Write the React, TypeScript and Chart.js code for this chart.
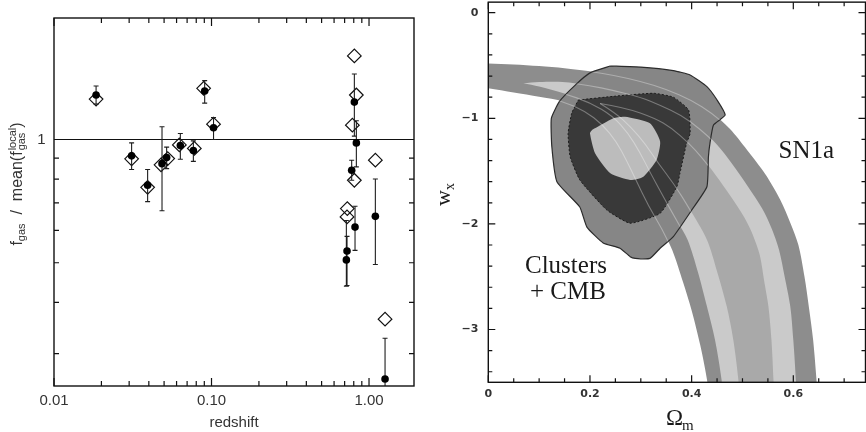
import { useEffect, useRef } from "react";
import { Chart, registerables } from "chart.js";

Chart.register(...registerables);

type Pair = [number, number];

// ---------- left panel: gas fraction relative to the local mean ----------
const clusterZ = [0.0185, 0.0311, 0.0393, 0.0485, 0.0519, 0.0634, 0.0767, 0.0905, 0.103, 0.807, 0.831, 0.776, 0.815, 0.725, 0.718, 1.097, 1.264];
const fgasRatio = [1.284, 0.912, 0.773, 0.873, 0.903, 0.967, 0.94, 1.313, 1.068, 1.234, 0.981, 0.841, 0.611, 0.534, 0.508, 0.649, 0.26];
const fgasLow = [1.22, 0.845, 0.705, 0.67, 0.849, 0.895, 0.884, 1.227, 1.0, 1.019, 0.857, 0.795, 0.536, 0.44, 0.438, 0.495, 0.2];
const fgasHigh = [1.351, 0.981, 0.845, 1.074, 0.958, 1.034, 0.992, 1.392, 1.132, 1.445, 1.111, 0.89, 0.687, 0.58, 0.634, 0.801, 0.327];
const modelZ = [0.0185, 0.0311, 0.0393, 0.0478, 0.0527, 0.0625, 0.0778, 0.0891, 0.103, 0.807, 0.831, 0.784, 0.807, 0.728, 0.725, 1.097, 1.264];
const modelRatio = [1.255, 0.897, 0.764, 0.867, 0.898, 0.97, 0.951, 1.333, 1.09, 1.6, 1.284, 1.084, 0.795, 0.678, 0.647, 0.89, 0.364];

const zLimits = [0.01, 1.93];
const ratioLimits = [0.25, 1.98];
const zMajorTicks = [0.01, 0.1, 1];
const zTickLabels = ["0.01", "0.10", "1.00"];
const zMinorTicks = [0.02, 0.03, 0.04, 0.05, 0.06, 0.07, 0.08, 0.09, 0.2, 0.3, 0.4, 0.5, 0.6, 0.7, 0.8, 0.9];
const ratioMajorTicks = [1];
const ratioTickLabels = ["1"];
const ratioMinorTicks = [0.3, 0.4, 0.5, 0.6, 0.7, 0.8, 0.9];

// ---------- right panel: Omega_m vs w_x constraints ----------
const omegaLimits = [0, 0.742];
const wLimits = [-3.5, 0.1];
const omegaMajorTicks = [0, 0.2, 0.4, 0.6];
const omegaTickLabels = ["0", "0.2", "0.4", "0.6"];
const omegaMinorTicks = [0.05, 0.1, 0.15, 0.25, 0.3, 0.35, 0.45, 0.5, 0.55, 0.65, 0.7];
const wMajorTicks = [0, -1, -2, -3];
const wTickLabels = ["0", "\u22121", "\u22122", "\u22123"];
const wMinorTicks = [-0.2, -0.4, -0.6, -0.8, -1.2, -1.4, -1.6, -1.8, -2.2, -2.4, -2.6, -2.8, -3.2, -3.4];

// SN1a band edges (outer, middle and core contours), upper/right and lower/left sides
const snOuterUpper: Pair[] = [[-0.02, -0.474], [0, -0.48], [0.05, -0.49], [0.1, -0.505], [0.15, -0.525], [0.2, -0.555], [0.25, -0.595], [0.3, -0.65], [0.35, -0.725], [0.4, -0.83], [0.44, -0.95], [0.475, -1.1], [0.509, -1.3], [0.545, -1.53], [0.574, -1.77], [0.595, -2.0], [0.61, -2.2], [0.622, -2.5], [0.631, -2.8], [0.639, -3.1], [0.646, -3.5], [0.648, -3.65]];
const snOuterLower: Pair[] = [[-0.02, -0.7], [0, -0.715], [0.05, -0.755], [0.1, -0.795], [0.148, -0.84], [0.19, -0.93], [0.225, -1.06], [0.252, -1.22], [0.272, -1.4], [0.29, -1.58], [0.315, -1.83], [0.342, -2.05], [0.362, -2.25], [0.383, -2.55], [0.4, -2.82], [0.417, -3.15], [0.431, -3.5], [0.433, -3.65]];
const snMidUpper: Pair[] = [[0.069, -0.669], [0.1, -0.657], [0.146, -0.656], [0.2, -0.69], [0.244, -0.734], [0.3, -0.8], [0.338, -0.876], [0.38, -0.97], [0.416, -1.1], [0.45, -1.25], [0.478, -1.42], [0.51, -1.64], [0.539, -1.856], [0.558, -2.05], [0.572, -2.247], [0.583, -2.5], [0.594, -2.78], [0.6, -3.1], [0.605, -3.48], [0.606, -3.65]];
const snMidLower: Pair[] = [[0.069, -0.669], [0.1, -0.7], [0.148, -0.763], [0.2, -0.85], [0.245, -0.98], [0.275, -1.14], [0.298, -1.32], [0.318, -1.51], [0.345, -1.75], [0.372, -1.98], [0.392, -2.15], [0.412, -2.45], [0.43, -2.78], [0.446, -3.1], [0.459, -3.48], [0.461, -3.65]];
const snCoreUpper: Pair[] = [[0.22, -0.86], [0.27, -0.9], [0.328, -1.0], [0.36, -1.09], [0.395, -1.237], [0.42, -1.37], [0.447, -1.537], [0.477, -1.74], [0.504, -1.942], [0.52, -2.1], [0.534, -2.295], [0.543, -2.55], [0.551, -2.78], [0.557, -3.1], [0.561, -3.48], [0.562, -3.65]];
const snCoreLower: Pair[] = [[0.22, -0.86], [0.25, -0.95], [0.28, -1.08], [0.31, -1.25], [0.335, -1.43], [0.365, -1.62], [0.395, -1.85], [0.43, -2.15], [0.45, -2.45], [0.469, -2.78], [0.482, -3.1], [0.492, -3.48], [0.494, -3.65]];

// Clusters + CMB confidence contours
const clusterOuter: Pair[] = [[0.2396, -0.505], [0.3, -0.515], [0.364, -0.548], [0.397, -0.59], [0.43, -0.7], [0.45, -0.827], [0.466, -0.969], [0.443, -1.063], [0.436, -1.237], [0.433, -1.364], [0.43, -1.648], [0.4, -1.87], [0.364, -2.12], [0.338, -2.23], [0.318, -2.326], [0.289, -2.326], [0.279, -2.31], [0.259, -2.23], [0.226, -2.18], [0.194, -2.03], [0.18, -1.84], [0.135, -1.6], [0.125, -1.27], [0.124, -1.0], [0.14, -0.84], [0.17, -0.69], [0.2, -0.57]];
const clusterMiddle: Pair[] = [[0.177, -0.827], [0.25, -0.79], [0.325, -0.763], [0.364, -0.8], [0.394, -0.921], [0.397, -1.142], [0.39, -1.237], [0.377, -1.521], [0.371, -1.648], [0.338, -1.9], [0.279, -1.994], [0.233, -1.868], [0.18, -1.584], [0.161, -1.364], [0.157, -1.142], [0.164, -0.953]];
const clusterInner: Pair[] = [[0.204, -1.111], [0.246, -1.0], [0.269, -0.985], [0.318, -1.048], [0.338, -1.22], [0.331, -1.395], [0.305, -1.553], [0.279, -1.584], [0.24, -1.521], [0.21, -1.331], [0.2, -1.142]];

const toPoints = (pairs: Pair[]) => pairs.map(([x, y]) => ({ x, y }));
const band = (upper: Pair[], lower: Pair[]) => toPoints([...upper, ...lower.slice().reverse()]);
const loop = (pairs: Pair[]) => toPoints([...pairs, pairs[0]]);
const labelFor = (vals: number[], labels: string[], v: number) => {
  const i = vals.findIndex((t) => Math.abs(t - v) < 1e-9);
  return i >= 0 ? labels[i] : "";
};

// Inward-pointing ticks on all four sides plus the box outline
function framePlugin(id: string, t: any) {
  return {
    id,
    afterDatasetsDraw(chart: any) {
      const { ctx, chartArea: a, scales } = chart;
      const sx = scales.x;
      const sy = scales.y;
      ctx.save();
      ctx.strokeStyle = "#111";
      ctx.lineWidth = 1.2;
      ctx.beginPath();
      const xs: [number[], number][] = [[t.xMajor, t.major], [t.xMinor, t.minor]];
      for (const [vals, len] of xs) {
        for (const v of vals) {
          const px = sx.getPixelForValue(v);
          ctx.moveTo(px, a.bottom);
          ctx.lineTo(px, a.bottom - len);
          ctx.moveTo(px, a.top);
          ctx.lineTo(px, a.top + len);
        }
      }
      const ys: [number[], number][] = [[t.yMajor, t.major], [t.yMinor, t.minor]];
      for (const [vals, len] of ys) {
        for (const v of vals) {
          const py = sy.getPixelForValue(v);
          ctx.moveTo(a.left, py);
          ctx.lineTo(a.left + len, py);
          ctx.moveTo(a.right, py);
          ctx.lineTo(a.right - len, py);
        }
      }
      ctx.stroke();
      ctx.lineWidth = 1.4;
      ctx.strokeRect(a.left, a.top, a.right - a.left, a.bottom - a.top);
      ctx.restore();
    },
  };
}

const errorBars = {
  id: "errorBars",
  beforeDatasetDraw(chart: any, args: any) {
    if (chart.data.datasets[args.index].label !== "fgas") return;
    const { ctx, chartArea: a, scales } = chart;
    const { x, y } = scales;
    ctx.save();
    ctx.beginPath();
    ctx.rect(a.left, a.top, a.right - a.left, a.bottom - a.top);
    ctx.clip();
    ctx.strokeStyle = "#1e1e1e";
    ctx.lineWidth = 1.1;
    ctx.beginPath();
    clusterZ.forEach((z, i) => {
      const px = x.getPixelForValue(z);
      const top = y.getPixelForValue(fgasHigh[i]);
      const bot = y.getPixelForValue(fgasLow[i]);
      ctx.moveTo(px, top);
      ctx.lineTo(px, bot);
      ctx.moveTo(px - 2.5, top);
      ctx.lineTo(px + 2.5, top);
      ctx.moveTo(px - 2.5, bot);
      ctx.lineTo(px + 2.5, bot);
    });
    ctx.stroke();
    ctx.restore();
  },
};

const leftTitles = {
  id: "leftTitles",
  afterDraw(chart: any) {
    const { ctx, chartArea: a } = chart;
    ctx.save();
    ctx.fillStyle = "#333";
    ctx.font = '15px "Liberation Sans"';
    ctx.textAlign = "center";
    ctx.textBaseline = "middle";
    ctx.fillText("redshift", (a.left + a.right) / 2, 423);

    // rotated y title: f_gas / mean(f_gas^local)
    const big = '16px "Liberation Sans"';
    const small = '11px "Liberation Sans"';
    ctx.translate(22, 184);
    ctx.rotate(-Math.PI / 2);
    ctx.textAlign = "left";
    ctx.textBaseline = "alphabetic";
    const parts: [string, string, number][] = [
      ["f", big, 0],
      ["gas", small, 3],
      ["  /  ", big, 0],
      ["mean(", big, 0],
      ["f", big, 0],
    ];
    let width = 0;
    for (const [s, f] of parts) {
      ctx.font = f;
      width += ctx.measureText(s).width;
    }
    ctx.font = small;
    const stackW = Math.max(ctx.measureText("local").width, ctx.measureText("gas").width);
    ctx.font = big;
    width += stackW + ctx.measureText(")").width + 1;
    let cx = -width / 2;
    for (const [s, f, dy] of parts) {
      ctx.font = f;
      ctx.fillText(s, cx, dy);
      cx += ctx.measureText(s).width;
    }
    ctx.font = small;
    ctx.fillText("local", cx + 1, -6.5);
    ctx.fillText("gas", cx + 1, 3);
    cx += stackW + 1;
    ctx.font = big;
    ctx.fillText(")", cx, 0);
    ctx.restore();
  },
};

// Faint SN1a contour edges showing through the cluster contours
const bandTraces = {
  id: "bandTraces",
  afterDatasetsDraw(chart: any) {
    const { ctx, scales } = chart;
    const { x, y } = scales;
    const px = (p: Pair) => [x.getPixelForValue(p[0]), y.getPixelForValue(p[1])];
    ctx.save();
    ctx.beginPath();
    clusterOuter.forEach((p, i) => {
      const [X, Y] = px(p);
      if (i) ctx.lineTo(X, Y);
      else ctx.moveTo(X, Y);
    });
    ctx.closePath();
    ctx.clip();
    ctx.strokeStyle = "rgba(255,255,255,0.33)";
    ctx.lineWidth = 1.1;
    for (const curve of [snOuterUpper, snOuterLower, snMidUpper, snMidLower, snCoreUpper, snCoreLower]) {
      const pts = curve.map(px);
      ctx.beginPath();
      ctx.moveTo(pts[0][0], pts[0][1]);
      for (let i = 1; i < pts.length - 1; i++) {
        const mx = (pts[i][0] + pts[i + 1][0]) / 2;
        const my = (pts[i][1] + pts[i + 1][1]) / 2;
        ctx.quadraticCurveTo(pts[i][0], pts[i][1], mx, my);
      }
      const last = pts[pts.length - 1];
      ctx.lineTo(last[0], last[1]);
      ctx.stroke();
    }
    ctx.restore();
  },
};

const rightTitles = {
  id: "rightTitles",
  afterDraw(chart: any) {
    const { ctx, scales } = chart;
    const { x, y } = scales;
    ctx.save();
    ctx.fillStyle = "#1a1a1a";
    ctx.textAlign = "left";
    ctx.textBaseline = "alphabetic";
    ctx.font = '25px "Liberation Serif"';
    ctx.fillText("SN1a", x.getPixelForValue(0.571), y.getPixelForValue(-1.379));
    ctx.fillText("Clusters", x.getPixelForValue(0.0722), y.getPixelForValue(-2.462));
    ctx.fillText("+ CMB", x.getPixelForValue(0.082), y.getPixelForValue(-2.714));

    ctx.font = '23px "Liberation Serif"';
    ctx.fillText("\u03A9", 226, 425);
    ctx.font = '15px "Liberation Serif"';
    ctx.fillText("m", 242, 430);

    ctx.translate(10, 194);
    ctx.rotate(-Math.PI / 2);
    ctx.font = '22px "Liberation Serif"';
    const ww = ctx.measureText("w").width;
    ctx.fillText("w", -12, 0);
    ctx.font = '14px "Liberation Serif"';
    ctx.fillText("x", -12 + ww, 4);
    ctx.restore();
  },
};

function leftConfig(): any {
  return {
    type: "line",
    data: {
      datasets: [
        {
          label: "unity",
          data: [{ x: zLimits[0], y: 1 }, { x: zLimits[1], y: 1 }],
          borderColor: "#111",
          borderWidth: 1.2,
          pointRadius: 0,
          order: 3,
        },
        {
          label: "model",
          data: modelZ.map((z, i) => ({ x: z, y: modelRatio[i] })),
          showLine: false,
          pointStyle: "rectRot",
          pointRadius: 6.8,
          pointBackgroundColor: "rgba(255,255,255,0)",
          pointBorderColor: "#111",
          pointBorderWidth: 1.2,
          order: 2,
        },
        {
          label: "fgas",
          data: clusterZ.map((z, i) => ({ x: z, y: fgasRatio[i] })),
          showLine: false,
          pointStyle: "circle",
          pointRadius: 3.8,
          pointBackgroundColor: "#000",
          pointBorderColor: "#000",
          pointBorderWidth: 0,
          order: 1,
        },
      ],
    },
    options: {
      responsive: false,
      animation: false,
      events: [],
      layout: { padding: { left: 0, top: 18, right: 26, bottom: 0 } },
      plugins: { legend: { display: false }, tooltip: { enabled: false } },
      scales: {
        x: {
          type: "logarithmic",
          min: zLimits[0],
          max: zLimits[1],
          grid: { display: false, drawTicks: false },
          border: { display: false },
          afterBuildTicks: (s: any) => {
            s.ticks = zMajorTicks.map((v) => ({ value: v }));
          },
          afterFit: (s: any) => {
            s.height = 46;
            s.paddingLeft = 0;
            s.paddingRight = 0;
          },
          ticks: {
            autoSkip: false,
            maxRotation: 0,
            padding: 5.5,
            color: "#333",
            font: { family: "Liberation Sans", size: 15 },
            callback: (v: number) => labelFor(zMajorTicks, zTickLabels, v),
          },
        },
        y: {
          type: "logarithmic",
          min: ratioLimits[0],
          max: ratioLimits[1],
          grid: { display: false, drawTicks: false },
          border: { display: false },
          afterBuildTicks: (s: any) => {
            s.ticks = ratioMajorTicks.map((v) => ({ value: v }));
          },
          afterFit: (s: any) => {
            s.width = 54;
            s.paddingTop = 0;
            s.paddingBottom = 0;
          },
          ticks: {
            autoSkip: false,
            padding: 8.5,
            color: "#333",
            font: { family: "Liberation Sans", size: 15 },
            callback: (v: number) => labelFor(ratioMajorTicks, ratioTickLabels, v),
          },
        },
      },
    },
    plugins: [
      errorBars,
      framePlugin("leftFrame", { xMajor: zMajorTicks, xMinor: zMinorTicks, yMajor: ratioMajorTicks, yMinor: ratioMinorTicks, major: 8, minor: 5 }),
      leftTitles,
    ],
  };
}

function rightConfig(): any {
  const layers = [
    { label: "SN outer", data: band(snOuterUpper, snOuterLower), color: "#8d8d8d", border: 0, tension: 0.3 },
    { label: "SN middle", data: band(snMidUpper, snMidLower), color: "#cacaca", border: 0, tension: 0.3 },
    { label: "SN core", data: band(snCoreUpper, snCoreLower), color: "#a9a9a9", border: 0, tension: 0.3 },
    { label: "Clusters outer", data: loop(clusterOuter), color: "#868686", border: 1.2, tension: 0.15, line: "#2c2c2c", dash: [] },
    { label: "Clusters middle", data: loop(clusterMiddle), color: "#393939", border: 1, tension: 0.15, line: "#1c1c1c", dash: [2, 2] },
    { label: "Clusters inner", data: loop(clusterInner), color: "#bcbcbc", border: 0, tension: 0.2 },
  ];
  return {
    type: "line",
    data: {
      datasets: layers.map((l, i) => ({
        label: l.label,
        data: l.data,
        fill: "shape",
        backgroundColor: l.color,
        borderColor: l.line || l.color,
        borderWidth: l.border,
        borderDash: l.dash || [],
        tension: l.tension,
        pointRadius: 0,
        order: layers.length - i,
      })),
    },
    options: {
      responsive: false,
      animation: false,
      events: [],
      layout: { padding: { left: 0, top: 2.14, right: 0.5, bottom: 0 } },
      plugins: { legend: { display: false }, tooltip: { enabled: false } },
      scales: {
        x: {
          type: "linear",
          min: omegaLimits[0],
          max: omegaLimits[1],
          grid: { display: false, drawTicks: false },
          border: { display: false },
          afterBuildTicks: (s: any) => {
            s.ticks = omegaMajorTicks.map((v) => ({ value: v }));
          },
          afterFit: (s: any) => {
            s.height = 49.7;
            s.paddingLeft = 0;
            s.paddingRight = 0;
          },
          ticks: {
            autoSkip: false,
            maxRotation: 0,
            padding: 4.8,
            color: "#333",
            font: { family: "DejaVu Sans", size: 11, weight: "bold" },
            callback: (v: number) => labelFor(omegaMajorTicks, omegaTickLabels, v),
          },
        },
        y: {
          type: "linear",
          min: wLimits[0],
          max: wLimits[1],
          grid: { display: false, drawTicks: false },
          border: { display: false },
          afterBuildTicks: (s: any) => {
            s.ticks = wMajorTicks.map((v) => ({ value: v }));
          },
          afterFit: (s: any) => {
            s.width = 48.3;
            s.paddingTop = 0;
            s.paddingBottom = 0;
          },
          ticks: {
            autoSkip: false,
            padding: 10,
            color: "#333",
            font: { family: "DejaVu Sans", size: 11, weight: "bold" },
            callback: (v: number) => labelFor(wMajorTicks, wTickLabels, v),
          },
        },
      },
    },
    plugins: [
      bandTraces,
      framePlugin("rightFrame", { xMajor: omegaMajorTicks, xMinor: omegaMinorTicks, yMajor: wMajorTicks, yMinor: wMinorTicks, major: 7, minor: 4 }),
      rightTitles,
    ],
  };
}

export default function App() {
  const leftRef = useRef<HTMLCanvasElement>(null);
  const rightRef = useRef<HTMLCanvasElement>(null);

  useEffect(() => {
    const left = new Chart(leftRef.current as HTMLCanvasElement, leftConfig());
    const right = new Chart(rightRef.current as HTMLCanvasElement, rightConfig());
    return () => {
      left.destroy();
      right.destroy();
    };
  }, []);

  return (
    <div style={{ position: "fixed", left: 0, top: 0, width: 866, height: 432, background: "#fff" }}>
      <canvas ref={leftRef} width={440} height={432} style={{ position: "absolute", left: 0, top: 0 }} />
      <canvas ref={rightRef} width={426} height={432} style={{ position: "absolute", left: 440, top: 0 }} />
    </div>
  );
}
